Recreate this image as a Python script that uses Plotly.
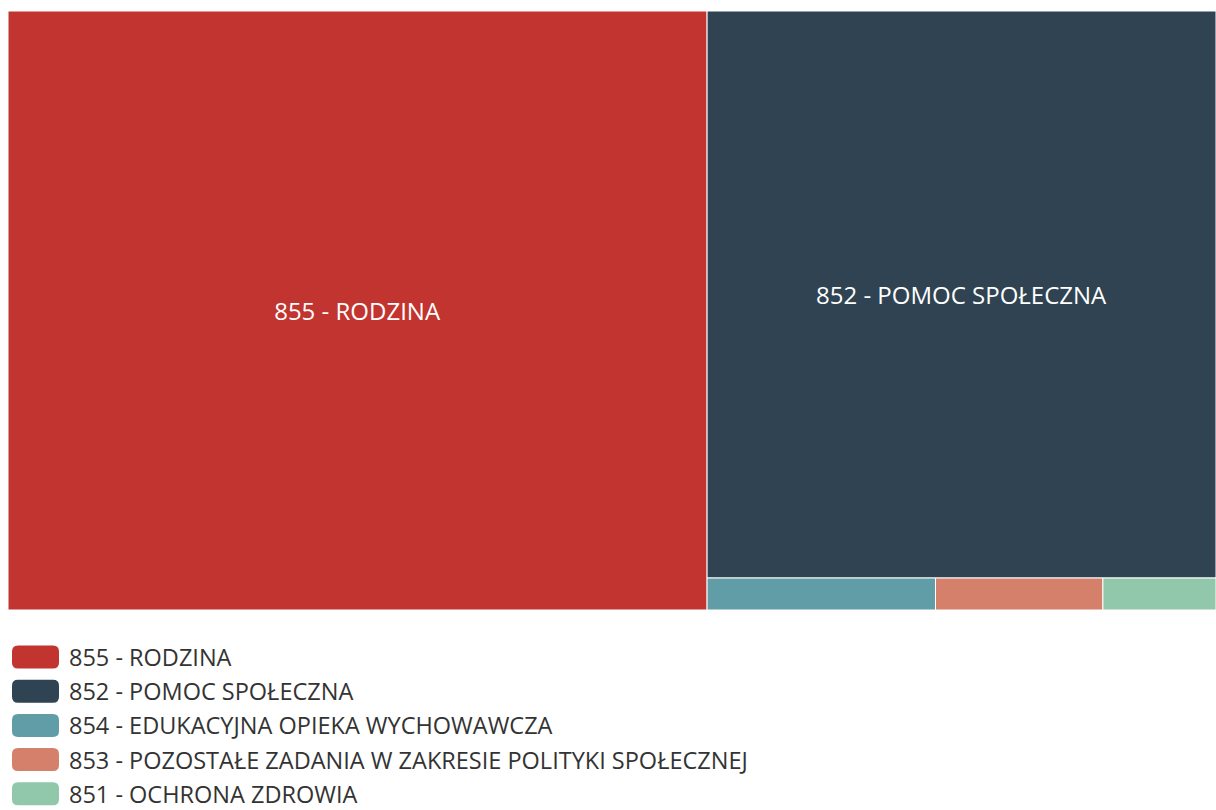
import plotly.graph_objects as go

labels = [
    "855 - RODZINA",
    "852 - POMOC SPOŁECZNA",
    "854 - EDUKACYJNA OPIEKA WYCHOWAWCZA",
    "853 - POZOSTAŁE ZADANIA W ZAKRESIE POLITYKI SPOŁECZNEJ",
    "851 - OCHRONA ZDROWIA",
]
values = [57.9, 39.9, 1.01, 0.74, 0.50]
colors = ["#C1342F", "#2F4352", "#609DA7", "#D4806A", "#91C7AA"]
# only the two big tiles carry a label
tile_text = ["%{label}", "%{label}", "", "", ""]

W, H = 1216, 810
FONT = "Open Sans"


def px(x):
    return x / W


def py(y):
    return 1 - y / H


fig = go.Figure()
fig.add_trace(go.Treemap(
    labels=labels,
    parents=[""] * len(labels),
    values=values,
    sort=True,
    texttemplate=tile_text,
    textposition="middle center",
    insidetextfont=dict(size=24, color="white", family=FONT),
    marker=dict(colors=colors, line=dict(width=1, color="white"),
                pad=dict(t=0, l=0, r=0, b=0)),
    pathbar=dict(visible=False),
    tiling=dict(packing="squarify", pad=0),
    domain=dict(x=[px(8), 1], y=[py(610), py(11)]),
    hoverinfo="label+value+percent root",
))

# legend drawn by hand (treemap has no legend items)
shapes = []
annotations = []
y0, dy = 657, 34.2
for i, (lab, col) in enumerate(zip(labels, colors)):
    cy = y0 + i * dy
    x1, x2 = 12, 59
    t, b = cy - 11.5, cy + 11.5
    r = 6
    pts = [("M", x1 + r, t), ("L", x2 - r, t), ("Q", x2, t), (None, x2, t + r),
           ("L", x2, b - r), ("Q", x2, b), (None, x2 - r, b), ("L", x1 + r, b),
           ("Q", x1, b), (None, x1, b - r), ("L", x1, t + r), ("Q", x1, t),
           (None, x1 + r, t)]
    path = " ".join((c + " " if c else "") + f"{px(x):.5f},{py(y):.5f}"
                    for c, x, y in pts) + " Z"
    shapes.append(dict(type="path", xref="paper", yref="paper",
                       path=path, fillcolor=col, line=dict(width=0)))
    annotations.append(dict(x=px(67), y=py(cy), xref="paper", yref="paper",
                            text=lab, showarrow=False, xanchor="left",
                            yanchor="middle",
                            font=dict(size=23.5, color="#333333", family=FONT)))

fig.update_layout(
    width=W, height=H,
    margin=dict(l=0, r=0, t=0, b=0),
    paper_bgcolor="white",
    shapes=shapes,
    annotations=annotations,
    font=dict(family=FONT),
)

fig.write_html("out.html",
               config={"displayModeBar": False},
               post_script="document.body.style.margin='0';"
                           "document.body.style.overflow='hidden';")
